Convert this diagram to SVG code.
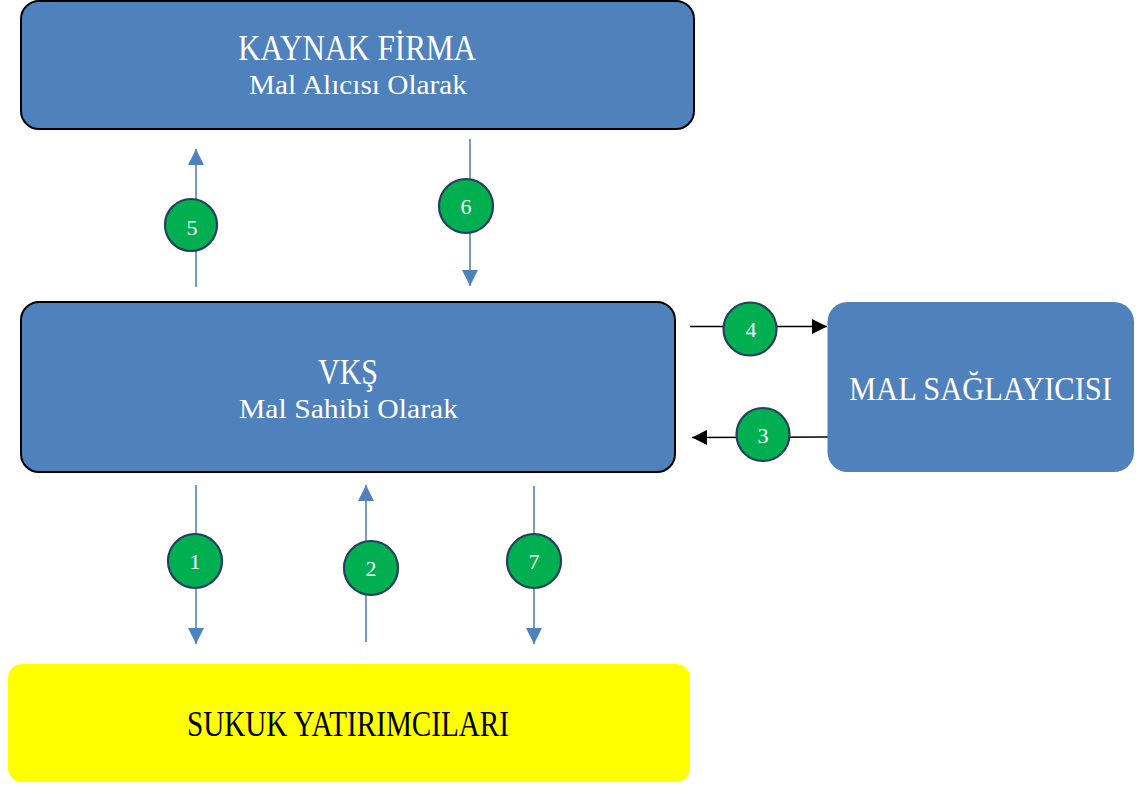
<svg xmlns="http://www.w3.org/2000/svg" width="1138" height="785" viewBox="0 0 1138 785">
<defs>
<marker id="ab" viewBox="0 0 10 10" refX="10" refY="5" markerWidth="16" markerHeight="16" markerUnits="userSpaceOnUse" orient="auto"><path d="M0,0 L10,5 L0,10 z" fill="#4F81BD"/></marker>
<marker id="ak" viewBox="0 0 10 10" refX="10" refY="5" markerWidth="15" markerHeight="15" markerUnits="userSpaceOnUse" orient="auto"><path d="M0,0 L10,5 L0,10 z" fill="#000"/></marker>
<style>
.box{fill:#4F81BD;stroke:#000;stroke-width:2}
.t{font-family:"Liberation Serif",serif;fill:#fff;text-anchor:middle}
.blue{stroke:#4F81BD;stroke-width:1.6;fill:none}
.blk{stroke:#000;stroke-width:1.6;fill:none}
.c{fill:#00B050;stroke:#243F60;stroke-width:2.2}
.n{font-family:"Liberation Serif",serif;font-size:22px;fill:#fff;text-anchor:middle}
</style>
</defs>
<rect width="1138" height="785" fill="#fff"/>
<g id="connectors">
<line class="blue" x1="196" y1="287" x2="196" y2="149" marker-end="url(#ab)"/>
<line class="blue" x1="470" y1="139" x2="470" y2="286" marker-end="url(#ab)"/>
<line class="blk" x1="690" y1="326.5" x2="827" y2="326.5" marker-end="url(#ak)"/>
<line class="blk" x1="828" y1="437" x2="692" y2="437.5" marker-end="url(#ak)"/>
<line class="blue" x1="196" y1="485" x2="196" y2="644" marker-end="url(#ab)"/>
<line class="blue" x1="366" y1="642" x2="366" y2="485" marker-end="url(#ab)"/>
<line class="blue" x1="534" y1="486" x2="534" y2="644" marker-end="url(#ab)"/>
</g>
<g id="badge5"><circle class="c" cx="191" cy="225" r="26"/><text class="n" x="192" y="235">5</text></g>
<g id="badge6"><circle class="c" cx="466" cy="206" r="27"/><text class="n" x="466" y="214">6</text></g>
<g id="badge4"><circle class="c" cx="750" cy="329" r="26.5"/><text class="n" x="751" y="337">4</text></g>
<g id="badge3"><circle class="c" cx="763" cy="434.5" r="26.5"/><text class="n" x="763" y="442.5">3</text></g>
<g id="badge1"><circle class="c" cx="195" cy="561" r="27"/><text class="n" x="195" y="569">1</text></g>
<g id="badge2"><circle class="c" cx="371" cy="568" r="27"/><text class="n" x="371" y="576">2</text></g>
<g id="badge7"><circle class="c" cx="534" cy="561" r="27"/><text class="n" x="534" y="569">7</text></g>
<g id="kaynak">
<rect class="box" x="21" y="1" width="673" height="128" rx="18"/>
<text class="t" x="357" y="60" font-size="35" textLength="238" lengthAdjust="spacingAndGlyphs">KAYNAK FİRMA</text>
<text class="t" x="358" y="93.5" font-size="28" textLength="218" lengthAdjust="spacingAndGlyphs">Mal Alıcısı Olarak</text>
</g>
<g id="vks">
<rect class="box" x="21" y="302" width="654" height="170" rx="18"/>
<text class="t" x="348" y="383.5" font-size="35" textLength="60" lengthAdjust="spacingAndGlyphs">VKŞ</text>
<text class="t" x="348.5" y="418" font-size="28" textLength="219" lengthAdjust="spacingAndGlyphs">Mal Sahibi Olarak</text>
</g>
<g id="malsaglayici">
<rect x="827.5" y="302" width="306.5" height="170" rx="20" fill="#4F81BD"/>
<text class="t" x="980.5" y="400" font-size="33" textLength="263" lengthAdjust="spacingAndGlyphs">MAL SAĞLAYICISI</text>
</g>
<g id="sukuk">
<rect x="8" y="664" width="682" height="118" rx="14" fill="#FFFF00"/>
<text x="348" y="736" font-family="Liberation Serif, serif" font-size="35" fill="#000" text-anchor="middle" textLength="322" lengthAdjust="spacingAndGlyphs">SUKUK YATIRIMCILARI</text>
</g>
</svg>
